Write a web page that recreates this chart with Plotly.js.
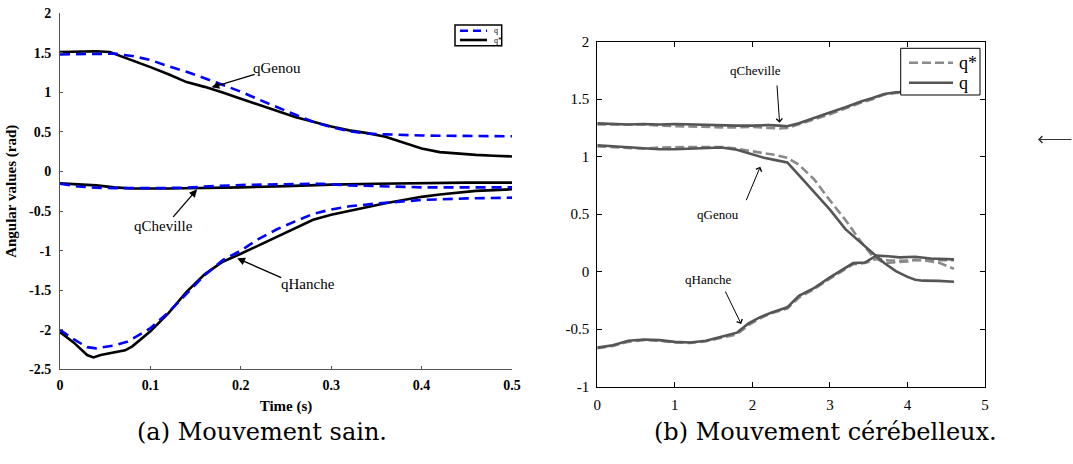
<!DOCTYPE html>
<html>
<head>
<meta charset="utf-8">
<script src="https://cdn.plot.ly/plotly-3.0.1.min.js"></script>
<style>html,body{margin:0;padding:0;background:#fff;}#chart{width:1073px;height:464px;}</style>
</head>
<body>
<div id="chart"></div>
<script>
// ---------- (a) Mouvement sain ----------
const aGenouQx  = [0,0.02,0.04,0.06,0.08,0.1,0.12,0.14,0.16,0.18,0.2,0.22,0.24,0.26,0.28,0.3,0.32,0.34,0.36,0.38,0.4,0.45,0.5];
const aGenouQy  = [1.48,1.485,1.49,1.49,1.46,1.41,1.33,1.26,1.18,1.10,1.01,0.91,0.81,0.72,0.63,0.56,0.51,0.48,0.47,0.46,0.455,0.45,0.445];
const aGenouSx  = [0,0.02,0.04,0.055,0.07,0.085,0.1,0.12,0.14,0.16,0.18,0.2,0.22,0.24,0.26,0.28,0.3,0.32,0.34,0.36,0.38,0.4,0.42,0.44,0.46,0.48,0.5];
const aGenouSy  = [1.51,1.515,1.52,1.51,1.45,1.39,1.32,1.23,1.13,1.07,1.0,0.92,0.84,0.76,0.69,0.63,0.57,0.52,0.485,0.44,0.36,0.29,0.245,0.225,0.21,0.2,0.19];
const aChevQx   = [0,0.02,0.04,0.06,0.1,0.14,0.16,0.2,0.25,0.29,0.32,0.36,0.4,0.5];
const aChevQy   = [-0.155,-0.19,-0.205,-0.21,-0.21,-0.205,-0.19,-0.17,-0.16,-0.155,-0.175,-0.19,-0.2,-0.2];
const aChevSx   = [0,0.02,0.04,0.06,0.08,0.12,0.16,0.2,0.25,0.3,0.35,0.4,0.45,0.5];
const aChevSy   = [-0.15,-0.16,-0.175,-0.2,-0.215,-0.215,-0.21,-0.2,-0.185,-0.165,-0.155,-0.145,-0.14,-0.14];
const aHancQx   = [0,0.015,0.03,0.04,0.06,0.075,0.09,0.1,0.12,0.14,0.16,0.18,0.2,0.22,0.24,0.26,0.28,0.3,0.32,0.35,0.38,0.4,0.45,0.5];
const aHancQy   = [-2.0,-2.12,-2.22,-2.235,-2.2,-2.15,-2.05,-1.98,-1.78,-1.54,-1.31,-1.12,-1.0,-0.85,-0.73,-0.63,-0.535,-0.48,-0.44,-0.405,-0.375,-0.36,-0.34,-0.33];
const aHancSx   = [0,0.015,0.03,0.037,0.045,0.06,0.072,0.08,0.09,0.1,0.12,0.14,0.16,0.18,0.2,0.22,0.24,0.26,0.28,0.3,0.32,0.34,0.36,0.38,0.4,0.42,0.44,0.46,0.48,0.5];
const aHancSy   = [-2.03,-2.16,-2.32,-2.35,-2.32,-2.29,-2.26,-2.21,-2.12,-2.02,-1.79,-1.52,-1.30,-1.14,-1.04,-0.93,-0.82,-0.71,-0.61,-0.545,-0.495,-0.45,-0.40,-0.36,-0.32,-0.29,-0.265,-0.245,-0.235,-0.225];
const aXticks = [0,0.1,0.2,0.3,0.4,0.5];
const aXlabels = ['0','0.1','0.2','0.3','0.4','0.5'];
const aYticks = [2,1.5,1,0.5,0,-0.5,-1,-1.5,-2,-2.5];
const aYlabels = ['2','1.5','1','0.5','0','-0.5','-1','-1.5','-2','-2.5'];

// ---------- (b) Mouvement cérébelleux ----------
const bChevX  = [0,0.2,0.4,0.6,0.8,1.0,1.2,1.4,1.6,1.8,2.0,2.2,2.35,2.45,2.6,2.8,3.0,3.2,3.4,3.55,3.7,3.85,4.0,4.2,4.4,4.6];
const bChevQ  = [1.29,1.285,1.28,1.285,1.28,1.285,1.28,1.28,1.275,1.27,1.27,1.275,1.27,1.265,1.29,1.34,1.385,1.43,1.48,1.51,1.545,1.56,1.565,1.57,1.57,1.57];
const bChevQs = [1.28,1.28,1.275,1.28,1.27,1.265,1.265,1.26,1.255,1.255,1.26,1.25,1.245,1.25,1.28,1.325,1.37,1.42,1.47,1.50,1.54,1.555,1.56,1.565,1.57,1.57];
const bGenX   = [0,0.2,0.4,0.6,0.8,1.0,1.2,1.4,1.6,1.8,2.0,2.15,2.3,2.45,2.6,2.8,3.0,3.2,3.4,3.55,3.7,3.85,4.0,4.1,4.2,4.4,4.6];
const bGenQ   = [1.10,1.09,1.08,1.07,1.065,1.065,1.07,1.08,1.08,1.06,1.02,0.99,0.97,0.95,0.84,0.69,0.54,0.37,0.25,0.16,0.075,0.005,-0.045,-0.07,-0.078,-0.08,-0.087];
const bGenQs  = [1.09,1.085,1.075,1.07,1.08,1.085,1.085,1.085,1.085,1.07,1.045,1.03,1.015,0.99,0.93,0.80,0.62,0.45,0.26,0.135,0.075,0.08,0.09,0.105,0.1,0.08,0.025];
const bHanX   = [0,0.2,0.4,0.6,0.8,1.0,1.2,1.4,1.6,1.8,1.95,2.1,2.25,2.45,2.6,2.8,3.0,3.15,3.3,3.45,3.6,3.75,3.9,4.1,4.3,4.6];
const bHanQ   = [-0.66,-0.64,-0.60,-0.59,-0.595,-0.61,-0.615,-0.60,-0.565,-0.53,-0.45,-0.395,-0.355,-0.31,-0.21,-0.14,-0.05,0.01,0.075,0.08,0.14,0.135,0.125,0.13,0.115,0.107];
const bHanQs  = [-0.665,-0.645,-0.61,-0.595,-0.6,-0.615,-0.62,-0.605,-0.575,-0.545,-0.465,-0.405,-0.36,-0.32,-0.225,-0.15,-0.06,0.0,0.065,0.075,0.11,0.1,0.095,0.1,0.1,0.1];
const bXticks = [0,1,2,3,4,5];
const bXlabels = ['0','1','2','3','4','5'];
const bYticks = [2,1.5,1,0.5,0,-0.5,-1];
const bYlabels = ['2','1.5','1','0.5','0','-0.5','-1'];

const W = 1073, H = 464;
const PX = x => x / W, PY = y => 1 - y / H;
const SERIF = "'Liberation Serif', 'Times New Roman', Times, serif";

const blueDash = {color:'#0000ff', width:2.6, dash:'10px,6px'};
const blackSolid = {color:'#000000', width:2.6};
const grayDash = {color:'#8a8a8a', width:2.6, dash:'9px,4px'};
const graySolid = {color:'#555555', width:2.6};

function tr(x, y, line, xa, ya, name){
  return {x:x, y:y, type:'scatter', mode:'lines', line:line, xaxis:xa, yaxis:ya, name:name, showlegend:false, hoverinfo:'skip'};
}

const data = [
  tr(aGenouSx, aGenouSy, blackSolid, 'x','y','q*'),
  tr(aChevSx, aChevSy, blackSolid, 'x','y','q*'),
  tr(aHancSx, aHancSy, blackSolid, 'x','y','q*'),
  tr(aGenouQx, aGenouQy, blueDash, 'x','y','q'),
  tr(aChevQx, aChevQy, blueDash, 'x','y','q'),
  tr(aHancQx, aHancQy, blueDash, 'x','y','q'),
  tr(bChevX, bChevQs, grayDash, 'x2','y2','q*'),
  tr(bGenX, bGenQs, grayDash, 'x2','y2','q*'),
  tr(bHanX, bHanQs, grayDash, 'x2','y2','q*'),
  tr(bChevX, bChevQ, graySolid, 'x2','y2','q'),
  tr(bGenX, bGenQ, graySolid, 'x2','y2','q'),
  tr(bHanX, bHanQ, graySolid, 'x2','y2','q'),
];

const fA = {family:SERIF, size:14, color:'#000', weight:'bold'};
const fB = {family:SERIF, size:15, color:'#000'};

function textAnn(text, x, y, xref, yref, font, extra){
  return Object.assign({text:text, x:x, y:y, xref:xref, yref:yref, showarrow:false, font:font, xanchor:'center', yanchor:'middle'}, extra||{});
}
function arrowAnn(x, y, ax, ay, xref, yref, head, size, width, color){
  return {text:'', x:x, y:y, ax:ax, ay:ay, xref:xref, yref:yref, axref:xref, ayref:yref,
          showarrow:true, arrowhead:head, arrowsize:size, arrowwidth:width, arrowcolor:color};
}

const annFontA = {family:SERIF, size:15, color:'#000'};
const annFontB = {family:SERIF, size:13, color:'#000'};

const annotations = [
  // plot (a)
  textAnn('qGenou', 0.2399, 1.305, 'x','y', annFontA),
  arrowAnn(0.1676, 1.064, 0.217, 1.233, 'x','y', 2, 1.2, 1.3, '#000'),
  textAnn('qCheville', 0.1142, -0.689, 'x','y', annFontA),
  arrowAnn(0.1516, -0.225, 0.1238, -0.592, 'x','y', 2, 1.2, 1.3, '#000'),
  textAnn('qHanche', 0.2738, -1.422, 'x','y', annFontA),
  arrowAnn(0.196, -1.097, 0.2464, -1.35, 'x','y', 2, 1.2, 1.3, '#000'),
  // plot (b)
  textAnn('qCheville', 2.036, 1.751, 'x2','y2', annFontB),
  arrowAnn(2.351, 1.296, 2.316, 1.632, 'x2','y2', 4, 1.2, 1, '#000'),
  textAnn('qGenou', 1.554, 0.499, 'x2','y2', annFontB),
  arrowAnn(2.102, 0.913, 1.913, 0.609, 'x2','y2', 4, 1.2, 1, '#000'),
  textAnn('qHanche', 1.423, -0.072, 'x2','y2', annFontB),
  arrowAnn(1.856, -0.455, 1.642, -0.159, 'x2','y2', 4, 1.2, 1, '#000'),
  // legends text
  textAnn('q', PX(492), PY(31), 'paper','paper', {family:SERIF, size:8, color:'#000'}, {xanchor:'left'}),
  textAnn('q*', PX(492), PY(40.5), 'paper','paper', {family:SERIF, size:8, color:'#000'}, {xanchor:'left'}),
  textAnn('q*', PX(957), PY(62.7), 'paper','paper', {family:SERIF, size:18, color:'#000'}, {xanchor:'left'}),
  textAnn('q', PX(957), PY(82.7), 'paper','paper', {family:SERIF, size:18, color:'#000'}, {xanchor:'left'}),
  // captions
  textAnn('(a) Mouvement sain.', PX(262), PY(432), 'paper','paper', {family:'DejaVu Serif', size:24, color:'#000'}),
  textAnn('(b) Mouvement cérébelleux.', PX(825), PY(432), 'paper','paper', {family:'DejaVu Serif', size:24, color:'#000'}),
  // stray arrow at right edge
  {text:'', x:PX(1038), y:PY(139.5), ax:PX(1073), ay:PY(139.5), xref:'paper', yref:'paper', axref:'paper', ayref:'paper',
   showarrow:true, arrowhead:4, arrowsize:1.3, arrowwidth:1, arrowcolor:'#333'}
];

const shapes = [
  // legend (a)
  {type:'rect', xref:'paper', yref:'paper', x0:PX(455), x1:PX(501.7), y0:PY(25), y1:PY(45.7), line:{color:'#000', width:1.5}, fillcolor:'#fff', layer:'above'},
  {type:'line', xref:'paper', yref:'paper', x0:PX(460), x1:PX(487), y0:PY(30.7), y1:PY(30.7), line:{color:'#0000ff', width:2.6, dash:'8px,5px'}, layer:'above'},
  {type:'line', xref:'paper', yref:'paper', x0:PX(460), x1:PX(487), y0:PY(40), y1:PY(40), line:{color:'#000', width:2.6}, layer:'above'},
  // legend (b)
  {type:'rect', xref:'paper', yref:'paper', x0:PX(900.7), x1:PX(980), y0:PY(48.3), y1:PY(95), line:{color:'#000', width:1}, fillcolor:'#fff', layer:'above'},
  {type:'line', xref:'paper', yref:'paper', x0:PX(909), x1:PX(953), y0:PY(62.7), y1:PY(62.7), line:{color:'#8a8a8a', width:2.6, dash:'9px,4px'}, layer:'above'},
  {type:'line', xref:'paper', yref:'paper', x0:PX(909), x1:PX(953), y0:PY(82.7), y1:PY(82.7), line:{color:'#555555', width:2.6}, layer:'above'}
];

const layout = {
  width:W, height:H, autosize:false,
  margin:{l:0, r:0, t:0, b:0, pad:0},
  paper_bgcolor:'#fff', plot_bgcolor:'#fff',
  showlegend:false,
  font:{family:SERIF},
  xaxis:{domain:[PX(60), PX(512)], range:[0,0.5], tickvals:aXticks, ticktext:aXlabels,
         showline:true, linecolor:'#555', linewidth:1, ticks:'inside', ticklen:3, tickcolor:'#555',
         showgrid:false, zeroline:false, tickfont:fA, ticklabelstandoff:3, anchor:'y',
         title:{text:'Time (s)', font:{family:SERIF, size:15, color:'#000', weight:'bold'}, standoff:8}},
  yaxis:{domain:[PY(369.3), PY(13.3)], range:[-2.5,2], tickvals:aYticks, ticktext:aYlabels,
         showline:true, linecolor:'#555', linewidth:1, ticks:'inside', ticklen:3, tickcolor:'#555',
         showgrid:false, zeroline:false, tickfont:fA, ticklabelstandoff:5, anchor:'x',
         title:{text:'Angular values (rad)', font:{family:SERIF, size:15, color:'#000', weight:'bold'}, standoff:8}},
  xaxis2:{domain:[PX(597.3), PX(985)], range:[0,5], tickvals:bXticks, ticktext:bXlabels,
         showline:true, linecolor:'#000', linewidth:1, mirror:'ticks', ticks:'inside', ticklen:5, tickcolor:'#000',
         showgrid:false, zeroline:false, tickfont:fB, ticklabelstandoff:4, anchor:'y2'},
  yaxis2:{domain:[PY(386.7), PY(41.7)], range:[-1,2], tickvals:bYticks, ticktext:bYlabels,
         showline:true, linecolor:'#000', linewidth:1, mirror:'ticks', ticks:'inside', ticklen:5, tickcolor:'#000',
         showgrid:false, zeroline:false, tickfont:fB, ticklabelstandoff:4, anchor:'x2'},
  annotations:annotations,
  shapes:shapes
};

Plotly.newPlot('chart', data, layout, {staticPlot:true, displayModeBar:false});
</script>
</body>
</html>
